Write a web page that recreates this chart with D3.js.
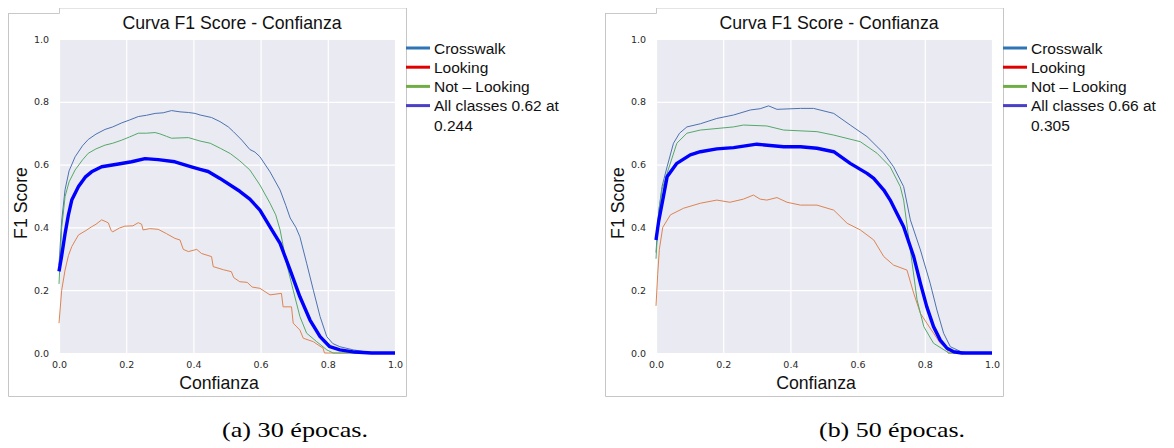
<!DOCTYPE html>
<html>
<head>
<meta charset="utf-8">
<script src="https://cdn.jsdelivr.net/npm/d3@7"></script>
<style>
  body { margin: 0; background: #fff; }
  svg { display: block; }
</style>
</head>
<body>
<svg id="chart" width="1174" height="448"></svg>
<script>
// datos: [confianza, f1]
const crosswalk30 = [[0,0.28],[0.008,0.42],[0.018,0.52],[0.03,0.58],[0.048,0.625],[0.07,0.66],[0.087,0.68],[0.11,0.697],[0.137,0.712],[0.16,0.72],[0.187,0.733],[0.21,0.742],[0.236,0.753],[0.26,0.757],[0.286,0.763],[0.31,0.765],[0.335,0.772],[0.36,0.768],[0.385,0.766],[0.405,0.763],[0.42,0.758],[0.454,0.75],[0.479,0.737],[0.504,0.72],[0.519,0.705],[0.544,0.678],[0.568,0.648],[0.583,0.64],[0.598,0.625],[0.628,0.577],[0.658,0.519],[0.675,0.47],[0.688,0.43],[0.705,0.40],[0.717,0.37],[0.737,0.286],[0.757,0.2],[0.777,0.116],[0.797,0.052],[0.815,0.03],[0.836,0.02],[0.876,0.01],[0.916,0.003],[0.95,0],[1,0]];
const looking30 = [[0,0.095],[0.008,0.2],[0.018,0.264],[0.028,0.31],[0.038,0.339],[0.058,0.376],[0.08,0.39],[0.097,0.402],[0.11,0.41],[0.127,0.424],[0.14,0.418],[0.147,0.414],[0.155,0.39],[0.16,0.386],[0.18,0.398],[0.196,0.404],[0.22,0.405],[0.236,0.415],[0.246,0.41],[0.25,0.392],[0.27,0.396],[0.295,0.394],[0.32,0.38],[0.345,0.365],[0.36,0.36],[0.37,0.33],[0.385,0.323],[0.41,0.33],[0.424,0.317],[0.454,0.307],[0.459,0.275],[0.49,0.265],[0.513,0.259],[0.52,0.24],[0.538,0.227],[0.56,0.225],[0.575,0.21],[0.598,0.206],[0.628,0.185],[0.662,0.19],[0.667,0.147],[0.692,0.147],[0.697,0.095],[0.717,0.073],[0.727,0.047],[0.757,0.036],[0.786,0.015],[0.79,0],[1,0]];
const notLooking30 = [[0,0.22],[0.008,0.4],[0.018,0.498],[0.03,0.545],[0.048,0.583],[0.07,0.615],[0.087,0.636],[0.11,0.65],[0.137,0.662],[0.16,0.668],[0.187,0.678],[0.21,0.688],[0.236,0.70],[0.26,0.70],[0.286,0.702],[0.30,0.698],[0.32,0.69],[0.335,0.684],[0.385,0.686],[0.42,0.675],[0.45,0.668],[0.48,0.652],[0.51,0.635],[0.538,0.612],[0.568,0.583],[0.598,0.535],[0.628,0.477],[0.645,0.44],[0.658,0.392],[0.677,0.286],[0.697,0.2],[0.717,0.116],[0.737,0.063],[0.767,0.036],[0.797,0.01],[0.816,0],[1,0]];
const all30 = [[0,0.26],[0.008,0.31],[0.018,0.38],[0.028,0.44],[0.038,0.487],[0.058,0.53],[0.078,0.56],[0.097,0.577],[0.127,0.593],[0.177,0.602],[0.216,0.609],[0.256,0.619],[0.295,0.616],[0.345,0.609],[0.394,0.593],[0.42,0.585],[0.444,0.578],[0.479,0.556],[0.538,0.515],[0.568,0.49],[0.598,0.455],[0.628,0.402],[0.658,0.349],[0.688,0.264],[0.717,0.179],[0.747,0.105],[0.777,0.052],[0.806,0.02],[0.836,0.01],[0.88,0.003],[0.93,0],[1,0]];

const crosswalk50 = [[0,0.32],[0.008,0.45],[0.018,0.53],[0.033,0.593],[0.052,0.668],[0.07,0.7],[0.092,0.72],[0.132,0.73],[0.181,0.747],[0.231,0.758],[0.281,0.774],[0.31,0.778],[0.335,0.787],[0.36,0.776],[0.43,0.779],[0.469,0.779],[0.529,0.763],[0.578,0.726],[0.628,0.689],[0.678,0.636],[0.707,0.593],[0.737,0.53],[0.757,0.424],[0.787,0.328],[0.816,0.222],[0.836,0.137],[0.856,0.063],[0.876,0.02],[0.906,0.005],[0.93,0],[1,0]];
const looking50 = [[0,0.15],[0.005,0.25],[0.01,0.33],[0.02,0.4],[0.043,0.44],[0.082,0.461],[0.132,0.477],[0.181,0.487],[0.22,0.48],[0.26,0.49],[0.29,0.503],[0.31,0.49],[0.33,0.487],[0.36,0.495],[0.39,0.48],[0.43,0.471],[0.479,0.471],[0.529,0.455],[0.569,0.413],[0.608,0.392],[0.648,0.36],[0.678,0.307],[0.707,0.28],[0.747,0.264],[0.767,0.19],[0.787,0.126],[0.806,0.095],[0.826,0.063],[0.846,0.031],[0.866,0.015],[0.87,0],[1,0]];
const notLooking50 = [[0,0.3],[0.008,0.45],[0.018,0.52],[0.033,0.572],[0.062,0.668],[0.092,0.70],[0.132,0.71],[0.231,0.72],[0.26,0.726],[0.33,0.723],[0.38,0.71],[0.479,0.705],[0.529,0.694],[0.608,0.673],[0.658,0.636],[0.697,0.593],[0.727,0.53],[0.737,0.487],[0.757,0.328],[0.777,0.169],[0.797,0.084],[0.826,0.031],[0.866,0.004],[0.87,0],[1,0]];
const all50 = [[0,0.36],[0.008,0.42],[0.02,0.487],[0.033,0.561],[0.062,0.604],[0.102,0.631],[0.132,0.641],[0.181,0.65],[0.231,0.654],[0.3,0.665],[0.38,0.657],[0.43,0.657],[0.479,0.652],[0.529,0.641],[0.578,0.604],[0.628,0.572],[0.648,0.556],[0.678,0.519],[0.697,0.487],[0.707,0.466],[0.737,0.402],[0.767,0.307],[0.787,0.222],[0.806,0.147],[0.826,0.084],[0.846,0.041],[0.866,0.015],[0.886,0.004],[0.91,0],[1,0]];

const ticks = [0, 0.2, 0.4, 0.6, 0.8, 1.0];
const legendNames = ['Crosswalk', 'Looking', 'Not \u2013 Looking', 'All classes'];
const legendColors = ['#2e75b6', '#e00000', '#70ad47', '#4b3fc6'];
const captions = ['(a) 30 épocas.', '(b) 50 épocas.'];
const bestLabels = [['0.62', '0.244'], ['0.66', '0.305']];

const svg = d3.select('#chart');
const fmt = d3.format('.1f');

function drawPanel(dx, series, caption, best) {
    const g = svg.append('g').attr('transform', `translate(${dx},0)`);

    // marco de la imagen
    const frame = g.append('g').attr('fill', 'none');
    frame.append('path').attr('d', 'M59,8.5 H406.5').attr('stroke', '#e4e4e4');
    frame.append('path').attr('d', 'M8.5,13.5 H59.5 V8').attr('stroke', '#c8c8c8');
    frame.append('path').attr('d', 'M8.5,13 V396.5 H406.5 V8').attr('stroke', '#c6c6c6');

    const x = d3.scaleLinear().domain([0, 1]).range([59, 395]);
    const y = d3.scaleLinear().domain([0, 1]).range([353, 39]);

    g.append('rect')
        .attr('x', x(0)).attr('y', y(1))
        .attr('width', x(1) - x(0)).attr('height', y(0) - y(1))
        .attr('fill', '#eaeaf2');

    // rejilla
    g.append('g')
        .attr('transform', `translate(0,${y(0)})`)
        .call(d3.axisBottom(x).tickValues(ticks).tickSize(-(y(0) - y(1))).tickFormat(''))
        .call(s => s.select('.domain').remove())
        .call(s => s.selectAll('line').attr('stroke', '#fff').attr('stroke-width', 1.2));
    g.append('g')
        .attr('transform', `translate(${x(0)},0)`)
        .call(d3.axisLeft(y).tickValues(ticks).tickSize(-(x(1) - x(0))).tickFormat(''))
        .call(s => s.select('.domain').remove())
        .call(s => s.selectAll('line').attr('stroke', '#fff').attr('stroke-width', 1.2));

    // etiquetas de los ejes
    const xAxis = g.append('g')
        .attr('transform', `translate(0,${y(0)})`)
        .call(d3.axisBottom(x).tickValues(ticks).tickSize(0).tickPadding(8).tickFormat(fmt));
    const yAxis = g.append('g')
        .attr('transform', `translate(${x(0)},0)`)
        .call(d3.axisLeft(y).tickValues(ticks).tickSize(0).tickPadding(10).tickFormat(fmt));
    [xAxis, yAxis].forEach(a => {
        a.select('.domain').remove();
        a.selectAll('text')
            .attr('fill', '#2a2a2a')
            .style('font-family', 'DejaVu Sans')
            .style('font-size', '9.5px');
    });

    // curvas
    const line = d3.line().x(d => x(d[0])).y(d => y(d[1]));
    const styles = [
        { color: '#4c72b0', w: 1 },
        { color: '#dd8452', w: 1 },
        { color: '#55a868', w: 1 },
        { color: '#0000ff', w: 3.4 }
    ];
    series.forEach((s, i) => {
        g.append('path')
            .datum(s)
            .attr('d', line)
            .attr('fill', 'none')
            .attr('stroke', styles[i].color)
            .attr('stroke-width', styles[i].w)
            .attr('stroke-linejoin', 'round');
    });

    // títulos
    g.append('text')
        .attr('x', 232).attr('y', 29)
        .attr('text-anchor', 'middle')
        .style('font-family', 'Liberation Sans, Arial')
        .style('font-size', '17.7px')
        .attr('fill', '#111')
        .text('Curva F1 Score - Confianza');
    g.append('text')
        .attr('x', 219).attr('y', 389)
        .attr('text-anchor', 'middle')
        .style('font-family', 'Liberation Sans, Arial')
        .style('font-size', '17.7px')
        .attr('fill', '#111')
        .text('Confianza');
    g.append('text')
        .attr('transform', 'translate(27,203) rotate(-90)')
        .attr('text-anchor', 'middle')
        .style('font-family', 'Liberation Sans, Arial')
        .style('font-size', '17.7px')
        .attr('fill', '#111')
        .text('F1 Score');

    // leyenda
    const leg = g.append('g');
    const rows = leg.selectAll('g')
        .data(legendNames)
        .enter()
        .append('g')
        .attr('transform', (d, i) => `translate(406,${48 + i * 19.2})`);
    rows.append('line')
        .attr('x1', 0).attr('x2', 24)
        .attr('stroke', (d, i) => legendColors[i])
        .attr('stroke-width', 3);
    rows.append('text')
        .attr('x', 28).attr('dy', '0.36em')
        .style('font-family', 'Liberation Sans, Arial')
        .style('font-size', '15.5px')
        .attr('fill', '#111')
        .text((d, i) => i === 3 ? `${d} ${best[0]} at` : d);
    leg.append('text')
        .attr('x', 434).attr('y', 125).attr('dy', '0.36em')
        .style('font-family', 'Liberation Sans, Arial')
        .style('font-size', '15.5px')
        .attr('fill', '#111')
        .text(best[1]);

    // pie de figura
    g.append('text')
        .attr('x', 222).attr('y', 437)
        .attr('textLength', 146)
        .attr('lengthAdjust', 'spacingAndGlyphs')
        .style('font-family', 'Liberation Serif, Times New Roman')
        .style('font-size', '21px')
        .attr('fill', '#000')
        .text(caption);
}

drawPanel(0, [crosswalk30, looking30, notLooking30, all30], captions[0], bestLabels[0]);
drawPanel(597, [crosswalk50, looking50, notLooking50, all50], captions[1], bestLabels[1]);
</script>
</body>
</html>
